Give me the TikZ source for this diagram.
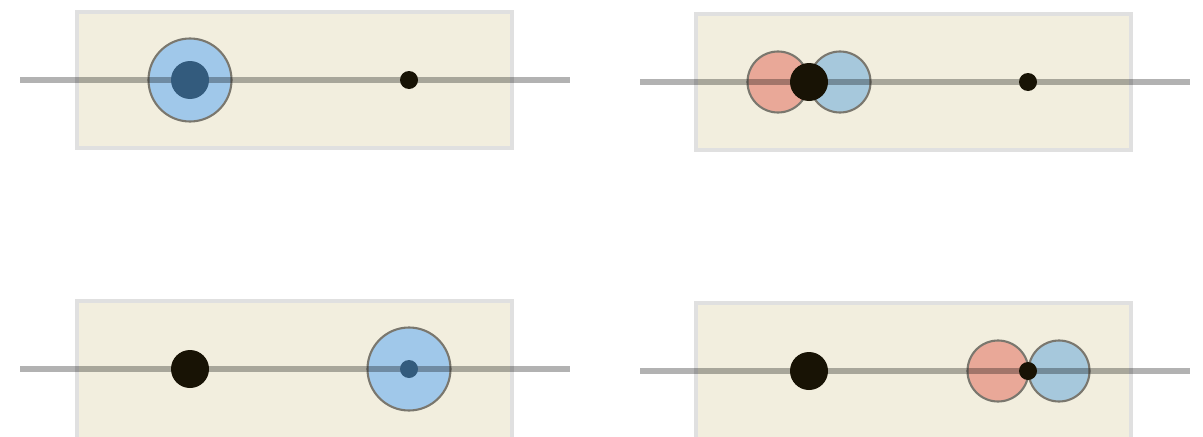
\documentclass[tikz,border=0pt]{standalone}
\usetikzlibrary{positioning}
\definecolor{panel}{HTML}{F2EEDE}
\definecolor{panelrim}{HTML}{E0E0E0}
\definecolor{skyblue}{HTML}{A0C8EA}
\definecolor{deepblue}{HTML}{335B7D}
\definecolor{salmon}{HTML}{E9A898}
\definecolor{paleblue}{HTML}{A6C8DC}
\definecolor{ink}{HTML}{181305}
\definecolor{rim}{HTML}{7A776E}
\begin{document}
\begin{tikzpicture}[x=0.02cm, y=-0.02cm,
		box/.style={fill=panel, draw=panelrim, line width=2.8pt},
		axis/.style={black, opacity=0.3, line width=3pt},
		lobe/.style={draw=rim, line width=1.2pt}]
				\useasboundingbox (0,0) rectangle (1203,436);
				\clip (0,0) rectangle (1203,436);
				% top left
				\coordinate (boxA) at (77, 12);
				\coordinate (lineA) at (20, 80);
				\coordinate (endA) at (570, 80);
				\coordinate (ringA) at (190, 80);
				\coordinate (dotA) at (409, 80);
				\draw[box] (boxA) rectangle (512, 148);
				\draw[lobe, fill=skyblue] (ringA) circle (41.5);
				\draw[axis] (lineA) -- (endA);
				\fill[deepblue] (ringA) circle (19);
				\fill[ink] (dotA) circle (9);
				% top right
				\coordinate (boxB) at (696, 14);
				\coordinate (lineB) at (640, 82);
				\coordinate (endB) at (1190, 82);
				\coordinate (redB) at (778, 82);
				\coordinate (blueB) at (840, 82);
				\coordinate (bigB) at (809, 82);
				\coordinate (dotB) at (1028, 82);
				\draw[box] (boxB) rectangle (1131, 150);
				\draw[lobe, fill=salmon] (redB) circle (30.5);
				\draw[lobe, fill=paleblue] (blueB) circle (30.5);
				\draw[axis] (lineB) -- (endB);
				\fill[ink] (bigB) circle (19);
				\fill[ink] (dotB) circle (9);
				% bottom left
				\coordinate (boxC) at (77, 301);
				\coordinate (lineC) at (20, 369);
				\coordinate (endC) at (570, 369);
				\coordinate (bigC) at (190, 369);
				\coordinate (ringC) at (409, 369);
				\draw[box] (boxC) rectangle (512, 460);
				\draw[lobe, fill=skyblue] (ringC) circle (41.5);
				\draw[axis] (lineC) -- (endC);
				\fill[ink] (bigC) circle (19);
				\fill[deepblue] (ringC) circle (9);
				% bottom right
				\coordinate (boxD) at (696, 303);
				\coordinate (lineD) at (640, 371);
				\coordinate (endD) at (1190, 371);
				\coordinate (bigD) at (809, 371);
				\coordinate (redD) at (998, 371);
				\coordinate (blueD) at (1059, 371);
				\coordinate (dotD) at (1028, 371);
				\draw[box] (boxD) rectangle (1131, 460);
				\draw[lobe, fill=salmon] (redD) circle (30.5);
				\draw[lobe, fill=paleblue] (blueD) circle (30.5);
				\draw[axis] (lineD) -- (endD);
				\fill[ink] (bigD) circle (19);
				\fill[ink] (dotD) circle (9);
			\end{tikzpicture}
\end{document}
